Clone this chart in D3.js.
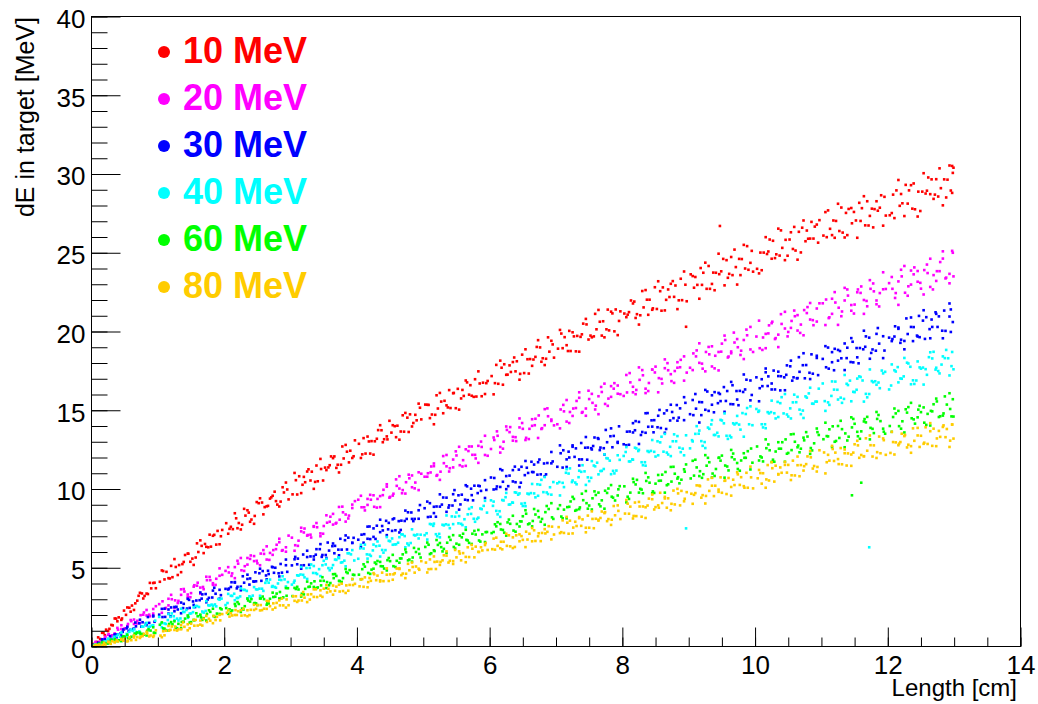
<!DOCTYPE html>
<html>
<head>
<meta charset="utf-8">
<script src="https://cdn.jsdelivr.net/npm/d3@7/dist/d3.min.js"></script>
<style>
  html, body { margin: 0; padding: 0; background: #fff; }
  svg { display: block; }
  text { font-family: "Liberation Sans", Arial, Helvetica, sans-serif; }
</style>
</head>
<body>
<svg id="chart" width="1038" height="704"></svg>
<script>
// Energy deposited in the target versus track length, one band per beam energy.

const xMajorTicks = [0, 2, 4, 6, 8, 10, 12, 14];
const yMajorTicks = [0, 5, 10, 15, 20, 25, 30, 35, 40];
const xTitle = "Length [cm]";
const yTitle = "dE in target [MeV]";
const energyLabels = ["10 MeV", "20 MeV", "30 MeV", "40 MeV", "60 MeV", "80 MeV"];
const energyColors = ["#ff0000", "#ff00ff", "#0000ff", "#00ffff", "#00ff00", "#ffcc00"];

// x, y pairs (cm, MeV)
const pts10 = [
  0.03,0.16, 0.13,0.48, 0.22,1.07, 0.32,1.34, 0.41,1.85, 0.52,2.01, 0.61,2.60, 0.71,3.22, 0.80,3.21, 0.90,3.69,
  1.03,4.11, 1.13,4.74, 1.22,4.40, 1.32,5.17, 1.41,5.81, 1.52,5.58, 1.61,6.00, 1.71,6.51, 1.80,6.34, 1.90,7.34,
  2.03,7.83, 2.13,7.45, 2.22,7.84, 2.32,8.31, 2.41,8.06, 2.52,9.10, 2.61,8.85, 2.71,9.47, 2.80,9.01, 2.90,9.78,
  3.03,9.66, 3.13,10.81, 3.22,10.43, 3.32,11.10, 3.41,10.49, 3.52,11.36, 3.61,12.07, 3.71,11.54, 3.80,11.94, 3.90,12.43,
  4.03,12.87, 4.13,12.25, 4.22,13.04, 4.32,13.74, 4.41,13.16, 4.52,13.58, 4.61,14.02, 4.71,13.64, 4.80,14.74, 4.90,14.36,
  5.03,15.36, 5.13,14.73, 5.22,15.11, 5.32,15.60, 5.41,15.14, 5.52,16.36, 5.61,15.91, 5.71,16.59, 5.80,15.87, 5.90,16.75,
  6.03,17.17, 6.13,16.68, 6.22,17.92, 6.32,17.43, 6.41,18.11, 6.52,17.36, 6.61,18.25, 6.71,19.02, 6.80,18.30, 6.90,18.72,
  7.03,18.91, 7.13,19.64, 7.22,18.76, 7.32,19.72, 7.41,20.50, 7.52,19.74, 7.61,20.14, 7.71,20.65, 7.80,20.07, 7.90,21.40,
  8.03,21.14, 8.13,21.97, 8.22,21.10, 8.32,21.53, 8.41,22.02, 8.52,21.43, 8.61,22.80, 8.71,22.19, 8.80,22.92, 8.90,21.99,
  9.03,23.63, 9.13,22.96, 9.22,23.73, 9.32,22.71, 9.41,23.73, 9.52,24.61, 9.61,23.66, 9.71,24.09, 9.80,24.60, 9.90,23.92,
  10.03,23.98, 10.13,25.01, 10.22,25.84, 10.32,24.90, 10.41,25.31, 10.52,25.84, 10.61,25.14, 10.71,26.59, 10.80,25.89, 10.90,26.66,
  11.03,26.09, 11.13,26.52, 11.22,27.02, 11.32,26.28, 11.41,27.78, 11.52,27.05, 11.61,27.83, 11.71,26.73, 11.80,27.77, 11.90,28.65,
  12.03,27.38, 12.13,28.96, 12.22,28.14, 12.32,28.96, 12.41,27.76, 12.52,28.88, 12.61,29.78, 12.71,28.69, 12.80,29.10, 12.90,29.64,
  12.97,28.80, 12.98,30.07, 12.99,30.40, 8.96,20.30, 9.47,26.70,
  0.08,0.29, 0.18,0.87, 0.27,1.12, 0.37,1.77, 0.46,1.78, 0.57,2.46, 0.66,2.74, 0.76,3.37, 0.85,3.33, 0.95,4.05,
  1.08,4.79, 1.18,4.32, 1.27,5.05, 1.37,5.23, 1.46,5.89, 1.57,5.65, 1.66,6.39, 1.76,6.30, 1.85,7.09, 1.95,7.00,
  2.08,7.47, 2.18,8.14, 2.27,7.73, 2.37,8.50, 2.46,8.29, 2.57,9.14, 2.66,8.93, 2.76,9.83, 2.85,9.20, 2.95,9.97,
  3.08,10.56, 3.18,10.27, 3.27,11.25, 3.37,10.45, 3.46,11.27, 3.57,11.37, 3.66,12.07, 3.76,11.54, 3.85,12.37, 3.95,12.08,
  4.08,12.20, 4.18,13.02, 4.27,13.03, 4.37,13.73, 4.46,13.15, 4.57,13.99, 4.66,13.65, 4.76,14.53, 4.85,14.19, 4.95,15.16,
  5.08,15.34, 5.18,14.71, 5.27,15.55, 5.37,15.18, 5.46,16.10, 5.57,15.75, 5.66,16.77, 5.76,15.85, 5.85,16.70, 5.95,16.72,
  6.08,16.72, 6.18,17.70, 6.27,17.26, 6.37,18.35, 6.46,17.31, 6.57,18.24, 6.66,18.22, 6.76,18.99, 6.85,18.27, 6.95,19.18,
  7.08,19.87, 7.18,18.76, 7.27,19.69, 7.37,19.66, 7.46,20.45, 7.57,19.69, 7.66,20.62, 7.76,20.14, 7.85,21.15, 7.95,20.67,
  8.08,21.07, 8.18,21.90, 8.27,21.03, 8.37,22.02, 8.46,21.47, 8.57,22.56, 8.66,22.01, 8.76,23.20, 8.85,21.98, 8.95,22.97,
  9.08,22.78, 9.18,24.03, 9.27,22.71, 9.37,23.74, 9.46,23.64, 9.57,24.53, 9.66,23.58, 9.76,24.61, 9.85,24.00, 9.95,25.12,
  10.08,25.01, 10.18,24.92, 10.27,25.76, 10.37,24.82, 10.46,25.82, 10.57,25.24, 10.66,26.33, 10.76,25.73, 10.85,26.96, 10.95,25.64,
  11.08,25.99, 11.18,27.05, 11.27,26.38, 11.37,27.53, 11.46,26.87, 11.57,28.17, 11.66,26.74, 11.76,27.80, 11.85,27.67, 11.95,28.55,
  12.08,28.69, 12.18,27.98, 12.27,29.31, 12.37,27.80, 12.46,28.88, 12.57,28.76, 12.66,29.66, 12.76,28.57, 12.85,29.66, 12.95,28.95,
  0.10,0.58, 0.20,0.72, 0.30,1.37, 0.39,1.60, 0.49,2.28, 0.59,2.21, 0.69,2.91, 0.78,3.05, 0.88,4.04, 0.97,3.70,
  1.10,4.26, 1.20,5.12, 1.30,4.54, 1.39,5.37, 1.49,5.38, 1.59,6.55, 1.69,5.93, 1.78,7.10, 1.88,6.47, 1.97,7.40,
  2.10,7.60, 2.20,7.51, 2.30,8.74, 2.39,7.92, 2.49,9.17, 2.59,8.39, 2.69,9.39, 2.78,9.23, 2.88,10.11, 2.97,9.34,
  3.10,9.65, 3.20,10.77, 3.30,10.54, 3.39,11.49, 3.49,10.54, 3.59,11.51, 3.69,11.34, 3.78,12.70, 3.88,11.69, 3.97,13.09,
  4.10,13.23, 4.20,12.25, 4.30,13.19, 4.39,12.97, 4.49,14.33, 4.59,13.29, 4.69,14.68, 4.78,13.62, 4.88,14.71, 4.97,14.42,
  5.10,14.50, 5.20,15.95, 5.30,14.81, 5.39,16.28, 5.49,15.13, 5.59,16.29, 5.69,15.99, 5.78,16.97, 5.88,15.89, 5.97,16.86,
  6.10,17.88, 6.20,16.62, 6.30,17.85, 6.39,17.47, 6.49,18.53, 6.59,17.33, 6.69,18.39, 6.78,18.08, 6.88,19.63, 6.97,18.34,
  7.10,18.94, 7.20,20.04, 7.30,18.74, 7.39,19.82, 7.49,19.49, 7.59,21.12, 7.69,19.74, 7.78,21.39, 7.88,20.01, 7.97,21.28,
  8.10,21.23, 8.20,20.86, 8.30,22.57, 8.39,21.06, 8.49,22.81, 8.59,21.32, 8.69,22.67, 8.78,22.20, 8.88,23.35, 8.97,21.92,
  9.10,23.46, 9.20,22.96, 9.30,24.16, 9.39,22.62, 9.49,23.82, 9.59,23.41, 9.69,25.20, 9.78,23.58, 9.88,25.42, 9.97,23.80,
  10.10,23.89, 10.20,25.08, 10.30,24.66, 10.39,26.42, 10.49,24.81, 10.59,26.64, 10.69,25.02, 10.78,26.41, 10.88,25.90, 10.97,27.07,
  11.10,27.69, 11.20,25.95, 11.30,27.87, 11.39,26.12, 11.49,27.59, 11.59,27.02, 11.69,28.27, 11.78,26.61, 11.88,27.86, 11.97,27.36,
  12.10,27.20, 12.20,28.73, 12.30,28.12, 12.39,29.40, 12.49,27.65, 12.59,28.94, 12.69,28.42, 12.78,30.36, 12.88,28.51, 12.97,30.51,
  0.06,0.10, 0.16,0.87, 0.25,0.98, 0.35,1.78, 0.45,1.69, 0.54,2.48, 0.64,2.32, 0.73,3.41, 0.83,3.36, 0.93,4.03,
  1.06,4.83, 1.16,4.34, 1.25,5.55, 1.35,4.72, 1.45,5.90, 1.54,5.18, 1.64,6.74, 1.73,6.33, 1.83,7.03, 1.93,6.49,
  2.06,7.16, 2.16,8.46, 2.25,7.43, 2.35,8.65, 2.45,7.79, 2.54,9.41, 2.64,8.90, 2.73,9.57, 2.83,8.89, 2.93,10.41,
  3.06,11.02, 3.16,9.74, 3.25,11.11, 3.35,10.01, 3.45,11.91, 3.54,11.20, 3.64,11.96, 3.73,11.05, 3.83,12.80, 3.93,11.97,
  4.06,11.97, 4.16,13.33, 4.25,12.18, 4.35,14.05, 4.45,13.34, 4.54,14.05, 4.64,13.13, 4.73,14.83, 4.83,13.97, 4.93,15.42,
  5.06,15.35, 5.16,14.11, 5.25,16.10, 5.35,15.31, 5.45,16.08, 5.54,15.04, 5.64,16.89, 5.73,15.92, 5.83,17.47, 5.93,16.03,
  6.06,16.01, 6.16,18.15, 6.25,17.25, 6.35,18.06, 6.45,16.94, 6.54,18.87, 6.64,17.82, 6.73,19.45, 6.83,17.87, 6.93,19.41,
  7.06,20.10, 7.16,19.13, 7.25,19.95, 7.35,18.72, 7.45,20.80, 7.54,19.63, 7.64,21.37, 7.73,19.63, 7.83,21.26, 7.93,19.77,
  8.06,20.91, 8.16,21.78, 8.25,20.44, 8.35,22.63, 8.45,21.38, 8.54,23.19, 8.64,21.34, 8.73,23.03, 8.83,21.42, 8.93,23.81,
  9.06,23.52, 9.16,22.08, 9.25,24.37, 9.35,23.02, 9.45,24.94, 9.54,22.93, 9.64,24.73, 9.73,22.98, 9.83,25.50, 9.93,24.36,
  10.06,23.69, 10.16,25.99, 10.25,24.62, 10.35,26.53, 10.45,24.53, 10.54,26.30, 10.64,24.56, 10.73,27.05, 10.83,25.90, 10.93,26.79,
  11.06,27.58, 11.16,26.12, 11.25,28.11, 11.35,25.97, 11.45,27.84, 11.54,25.95, 11.64,28.59, 11.73,27.34, 11.83,28.27, 11.93,26.72,
  12.06,27.52, 12.16,29.62, 12.25,27.33, 12.35,29.29, 12.45,27.30, 12.54,30.05, 12.64,28.72, 12.73,29.67, 12.83,28.01, 12.93,30.54
];
const pts20 = [
  0.07,0.10, 0.16,0.42, 0.26,0.78, 0.35,0.83, 0.45,1.11, 0.55,1.43, 0.64,1.43, 0.74,1.99, 0.83,1.97, 0.93,2.38,
  1.07,2.87, 1.16,2.61, 1.26,2.93, 1.35,3.28, 1.45,3.14, 1.55,3.89, 1.64,3.74, 1.74,4.21, 1.83,3.91, 1.93,4.49,
  2.07,4.70, 2.16,5.04, 2.26,4.84, 2.35,5.62, 2.45,5.42, 2.55,5.90, 2.64,5.52, 2.74,6.12, 2.83,6.62, 2.93,6.30,
  3.07,6.43, 3.16,7.31, 3.26,7.08, 3.35,7.60, 3.45,7.18, 3.55,7.86, 3.64,8.42, 3.74,8.05, 3.83,8.38, 3.93,8.79,
  4.07,8.84, 4.16,9.37, 4.26,8.87, 4.35,9.55, 4.45,10.15, 4.55,9.70, 4.64,10.03, 4.74,10.43, 4.83,10.11, 4.93,11.06,
  5.07,11.00, 5.16,11.62, 5.26,11.10, 5.35,11.44, 5.45,11.87, 5.55,11.51, 5.64,12.52, 5.74,12.17, 5.83,12.74, 5.93,12.16,
  6.07,13.11, 6.16,12.67, 6.26,13.75, 6.35,13.31, 6.45,13.91, 6.55,13.25, 6.64,14.01, 6.74,14.67, 6.83,14.05, 6.93,14.41,
  7.07,15.05, 7.16,14.28, 7.26,15.11, 7.35,15.79, 7.45,15.11, 7.55,15.47, 7.64,15.89, 7.74,15.40, 7.83,16.53, 7.93,16.05,
  8.07,16.13, 8.16,16.49, 8.26,16.93, 8.35,16.37, 8.45,17.58, 8.55,17.04, 8.64,17.67, 8.74,16.85, 8.83,17.70, 8.93,18.42,
  9.07,18.61, 9.16,18.01, 9.26,18.70, 9.35,17.78, 9.45,18.70, 9.55,19.46, 9.64,18.62, 9.74,19.00, 9.83,19.46, 9.93,18.86,
  10.07,18.94, 10.16,19.85, 10.26,20.62, 10.35,19.80, 10.45,20.19, 10.55,20.67, 10.64,20.06, 10.74,21.36, 10.83,20.76, 10.93,21.46,
  11.07,22.03, 11.16,21.12, 11.26,21.51, 11.35,21.97, 11.45,21.32, 11.55,22.67, 11.64,22.00, 11.74,22.71, 11.83,21.73, 11.93,22.68,
  12.07,22.71, 12.16,23.18, 12.26,22.46, 12.35,23.87, 12.45,23.16, 12.55,23.90, 12.64,22.83, 12.74,23.83, 12.83,24.63, 12.93,23.66,
  12.98,25.00, 12.99,23.50,
  0.02,0.07, 0.12,0.30, 0.21,0.62, 0.31,0.71, 0.40,1.07, 0.50,1.16, 0.60,1.61, 0.69,1.63, 0.79,2.16, 0.88,1.92,
  1.02,2.69, 1.12,2.45, 1.21,3.00, 1.31,2.90, 1.40,3.49, 1.50,3.39, 1.60,4.05, 1.69,3.64, 1.79,4.21, 1.88,4.30,
  2.02,4.80, 2.12,4.64, 2.21,5.26, 2.31,5.10, 2.40,5.78, 2.50,5.28, 2.60,5.88, 2.69,5.94, 2.79,6.46, 2.88,6.12,
  3.02,6.91, 3.12,6.72, 3.21,7.49, 3.31,6.92, 3.40,7.57, 3.50,7.65, 3.60,8.24, 3.69,7.85, 3.79,8.52, 3.88,8.31,
  4.02,9.32, 4.12,8.64, 4.21,9.32, 4.31,9.37, 4.40,9.95, 4.50,9.50, 4.60,10.20, 4.69,9.93, 4.79,10.68, 4.88,10.41,
  5.02,10.78, 5.12,11.43, 5.21,10.89, 5.31,11.64, 5.40,11.32, 5.50,12.13, 5.60,11.83, 5.69,12.70, 5.79,11.94, 5.88,12.67,
  6.02,12.54, 6.12,13.38, 6.21,13.00, 6.31,13.93, 6.40,13.04, 6.50,13.82, 6.60,13.82, 6.69,14.46, 6.79,13.86, 6.88,14.62,
  7.02,14.11, 7.12,14.93, 7.21,14.89, 7.31,15.59, 7.40,14.89, 7.50,15.71, 7.60,15.29, 7.69,16.16, 7.79,15.74, 7.88,16.72,
  8.02,15.91, 8.12,16.77, 8.21,16.29, 8.31,17.22, 8.40,16.73, 8.50,17.77, 8.60,16.70, 8.69,17.54, 8.79,17.49, 8.88,18.20,
  9.02,17.70, 9.12,18.80, 9.21,17.64, 9.31,18.55, 9.40,18.46, 9.50,19.23, 9.60,18.41, 9.69,19.30, 9.79,18.78, 9.88,19.76,
  10.02,19.68, 10.12,19.62, 10.21,20.39, 10.31,19.58, 10.40,20.48, 10.50,19.97, 10.60,20.97, 10.69,20.44, 10.79,21.55, 10.88,20.40,
  11.02,21.79, 11.12,20.90, 11.21,21.84, 11.31,21.27, 11.40,22.28, 11.50,21.71, 11.60,22.86, 11.69,21.60, 11.79,22.55, 11.88,22.44,
  12.02,23.07, 12.12,22.44, 12.21,23.50, 12.31,22.87, 12.40,24.07, 12.50,22.72, 12.60,23.71, 12.69,23.58, 12.79,24.41, 12.88,23.42,
  0.11,0.16, 0.20,0.52, 0.30,0.67, 0.39,1.18, 0.49,1.08, 0.59,1.68, 0.68,1.46, 0.78,2.02, 0.87,2.02, 0.97,2.56,
  1.11,2.41, 1.20,3.28, 1.30,2.76, 1.39,3.65, 1.49,3.13, 1.59,3.86, 1.68,3.78, 1.78,4.42, 1.87,3.91, 1.97,4.55,
  2.11,4.48, 2.20,5.44, 2.30,4.80, 2.39,5.56, 2.49,5.44, 2.59,6.12, 2.68,5.50, 2.78,6.18, 2.87,6.08, 2.97,7.04,
  3.11,6.39, 3.20,7.24, 3.30,7.10, 3.39,7.84, 3.49,7.16, 3.59,7.92, 3.68,7.81, 3.78,8.88, 3.87,8.13, 3.97,9.23,
  4.11,8.84, 4.20,9.63, 4.30,8.82, 4.39,9.61, 4.49,9.45, 4.59,10.61, 4.68,9.73, 4.78,10.91, 4.87,10.04, 4.97,10.97,
  5.11,11.05, 5.20,10.84, 5.30,12.09, 5.39,11.11, 5.49,12.39, 5.59,11.43, 5.68,12.41, 5.78,12.17, 5.87,13.01, 5.97,12.11,
  6.11,13.66, 6.20,12.56, 6.30,13.61, 6.39,13.29, 6.49,14.19, 6.59,13.17, 6.68,14.05, 6.78,13.81, 6.87,15.12, 6.97,14.04,
  7.11,15.34, 7.20,14.19, 7.30,15.14, 7.39,14.84, 7.49,16.24, 7.59,15.05, 7.68,16.48, 7.78,15.28, 7.87,16.37, 7.97,16.02,
  8.11,17.36, 8.20,16.02, 8.30,17.55, 8.39,16.22, 8.49,17.40, 8.59,16.99, 8.68,17.99, 8.78,16.74, 8.87,17.73, 8.97,17.39,
  9.11,18.42, 9.20,17.96, 9.30,19.02, 9.39,17.66, 9.49,18.72, 9.59,18.35, 9.68,19.93, 9.78,18.51, 9.87,20.12, 9.97,18.70,
  10.11,18.83, 10.20,19.88, 10.30,19.52, 10.39,21.10, 10.49,19.69, 10.59,21.33, 10.68,19.91, 10.78,21.17, 10.87,20.72, 10.97,21.79,
  11.11,20.85, 11.20,22.50, 11.30,20.97, 11.39,22.67, 11.49,21.14, 11.59,22.45, 11.68,21.94, 11.78,23.05, 11.87,21.59, 11.97,22.70,
  12.11,22.13, 12.20,23.92, 12.30,22.27, 12.39,23.63, 12.49,23.09, 12.59,24.25, 12.68,22.67, 12.78,23.83, 12.87,23.37, 12.97,25.12,
  0.06,0.29, 0.16,0.29, 0.25,0.74, 0.35,0.67, 0.45,1.35, 0.54,1.30, 0.64,1.71, 0.73,1.49, 0.83,2.32, 0.93,2.09,
  1.06,2.14, 1.16,3.03, 1.25,2.44, 1.35,3.63, 1.45,3.30, 1.54,3.80, 1.64,3.35, 1.73,4.43, 1.83,4.02, 1.93,4.96,
  2.06,5.04, 2.16,4.34, 2.25,5.62, 2.35,5.20, 2.45,5.74, 2.54,5.16, 2.64,6.36, 2.73,5.82, 2.83,6.84, 2.93,6.02,
  3.06,6.08, 3.16,7.54, 3.25,7.04, 3.35,7.64, 3.45,7.00, 3.54,8.33, 3.64,7.74, 3.73,8.86, 3.83,7.93, 3.93,9.01,
  4.06,9.57, 4.16,8.99, 4.25,9.60, 4.35,8.85, 4.45,10.30, 4.54,9.58, 4.64,10.81, 4.73,9.71, 4.83,10.86, 4.93,9.93,
  5.06,10.78, 5.16,11.45, 5.25,10.58, 5.35,12.16, 5.45,11.37, 5.54,12.68, 5.64,11.47, 5.73,12.70, 5.83,11.66, 5.93,13.38,
  6.06,13.27, 6.16,12.31, 6.25,13.97, 6.35,13.07, 6.45,14.48, 6.54,13.11, 6.64,14.43, 6.73,13.24, 6.83,15.07, 6.93,14.32,
  7.06,13.85, 7.16,15.65, 7.25,14.64, 7.35,16.14, 7.45,14.65, 7.54,16.04, 7.64,14.75, 7.73,16.69, 7.83,15.85, 7.93,16.57,
  8.06,17.24, 8.16,16.14, 8.25,17.72, 8.35,16.09, 8.45,17.58, 8.54,16.14, 8.64,18.23, 8.73,17.29, 8.83,18.05, 8.93,16.88,
  9.06,17.55, 9.16,19.25, 9.25,17.47, 9.35,19.06, 9.45,17.53, 9.54,19.74, 9.64,18.73, 9.73,19.52, 9.83,18.25, 9.93,20.29,
  10.06,20.69, 10.16,18.94, 10.25,20.53, 10.35,19.01, 10.45,21.25, 10.54,20.23, 10.64,21.04, 10.73,19.76, 10.83,21.81, 10.93,20.63,
  11.06,20.41, 11.16,22.08, 11.25,20.42, 11.35,22.77, 11.45,21.68, 11.54,22.49, 11.64,21.12, 11.73,23.26, 11.83,21.97, 11.93,23.76,
  12.06,23.46, 12.16,21.69, 12.25,24.16, 12.35,22.98, 12.45,23.84, 12.54,22.35, 12.64,24.62, 12.73,23.21, 12.83,25.09, 12.93,23.06
];
const pts30 = [
  0.02,0.10, 0.11,0.20, 0.20,0.46, 0.30,0.48, 0.39,0.77, 0.48,1.08, 0.58,1.06, 0.67,1.28, 0.77,1.54, 0.87,1.50,
  1.02,2.02, 1.11,1.88, 1.20,2.48, 1.30,2.35, 1.39,2.71, 1.48,2.45, 1.58,2.92, 1.67,3.31, 1.77,3.09, 1.87,3.35,
  2.02,3.66, 2.11,4.08, 2.20,3.79, 2.30,4.05, 2.39,4.32, 2.48,4.14, 2.58,4.79, 2.67,4.60, 2.77,5.00, 2.87,4.69,
  3.02,5.15, 3.11,5.58, 3.20,5.16, 3.30,5.72, 3.39,6.18, 3.48,5.81, 3.58,6.09, 3.67,6.39, 3.77,6.15, 3.87,6.91,
  4.02,6.78, 4.11,7.13, 4.20,6.82, 4.30,7.67, 4.39,7.37, 4.48,7.85, 4.58,7.38, 4.67,7.99, 4.77,8.52, 4.87,8.10,
  5.02,8.78, 5.11,8.24, 5.20,8.89, 5.30,9.46, 5.39,8.96, 5.48,9.27, 5.58,9.64, 5.67,9.29, 5.77,10.21, 5.87,9.88,
  6.02,10.73, 6.11,10.16, 6.20,10.46, 6.30,10.85, 6.39,10.43, 6.48,11.41, 6.58,11.02, 6.67,11.55, 6.77,10.93, 6.87,11.65,
  7.02,11.41, 7.11,12.46, 7.20,12.00, 7.30,12.58, 7.39,11.88, 7.48,12.63, 7.58,13.27, 7.67,12.63, 7.77,12.97, 7.87,13.37,
  8.02,12.84, 8.11,13.65, 8.20,14.31, 8.30,13.62, 8.39,13.95, 8.48,14.37, 8.58,13.87, 8.67,14.99, 8.77,14.50, 8.87,15.12,
  9.02,14.75, 9.11,15.10, 9.20,15.51, 9.30,14.96, 9.39,16.15, 9.48,15.58, 9.58,16.22, 9.67,15.38, 9.77,16.23, 9.87,16.94,
  10.02,17.09, 10.11,16.53, 10.20,17.15, 10.30,16.32, 10.39,17.16, 10.48,17.85, 10.58,17.09, 10.67,17.44, 10.77,17.87, 10.87,17.32,
  11.02,18.26, 11.11,17.64, 11.20,18.90, 11.30,18.30, 11.39,18.97, 11.48,18.04, 11.58,18.95, 11.67,19.69, 11.77,18.86, 11.87,19.23,
  12.02,19.61, 12.11,20.33, 12.20,19.48, 12.30,19.84, 12.39,20.28, 12.48,19.64, 12.58,20.91, 12.67,20.29, 12.77,20.96, 12.87,20.04,
  12.95,21.40, 12.98,20.60,
  0.07,0.12, 0.16,0.42, 0.25,0.39, 0.35,0.72, 0.44,0.84, 0.53,1.15, 0.63,1.11, 0.72,1.47, 0.82,1.46, 0.93,1.91,
  1.07,1.87, 1.16,2.35, 1.25,2.24, 1.35,2.79, 1.44,2.41, 1.53,2.86, 1.63,2.94, 1.72,3.33, 1.82,3.11, 1.93,3.60,
  2.07,3.68, 2.16,4.09, 2.25,3.80, 2.35,4.29, 2.44,4.13, 2.53,4.65, 2.63,4.51, 2.72,5.06, 2.82,4.65, 2.93,5.16,
  3.07,5.69, 3.16,5.14, 3.25,5.68, 3.35,5.72, 3.44,6.18, 3.53,5.81, 3.63,6.37, 3.72,6.15, 3.82,6.75, 3.93,6.57,
  4.07,7.10, 4.16,6.84, 4.25,7.50, 4.35,7.26, 4.44,7.98, 4.53,7.34, 4.63,7.96, 4.72,7.97, 4.82,8.51, 4.93,8.11,
  5.07,8.22, 5.16,8.87, 5.25,8.88, 5.35,9.45, 5.44,8.95, 5.53,9.60, 5.63,9.32, 5.72,10.02, 5.82,9.74, 5.93,10.56,
  6.07,10.70, 6.16,10.13, 6.25,10.82, 6.35,10.48, 6.44,11.23, 6.53,10.88, 6.63,11.73, 6.72,10.91, 6.82,11.62, 6.93,11.63,
  7.07,12.27, 7.16,11.88, 7.25,12.77, 7.35,11.88, 7.44,12.62, 7.53,12.59, 7.63,13.23, 7.72,12.59, 7.82,13.35, 7.93,12.99,
  8.07,13.64, 8.16,13.59, 8.25,14.26, 8.35,13.57, 8.44,14.36, 8.53,13.92, 8.63,14.80, 8.72,14.35, 8.82,15.33, 8.93,14.37,
  9.07,14.69, 9.16,15.52, 9.25,15.03, 9.35,15.95, 9.44,15.45, 9.53,16.47, 9.63,15.39, 9.72,16.22, 9.82,16.16, 9.93,16.89,
  10.07,16.40, 10.16,17.41, 10.25,16.32, 10.35,17.17, 10.44,17.09, 10.53,17.79, 10.63,17.03, 10.72,17.86, 10.82,17.38, 10.93,18.32,
  11.07,17.73, 11.16,18.69, 11.25,18.15, 11.35,19.24, 11.44,18.06, 11.53,18.95, 11.63,18.87, 11.72,19.61, 11.82,18.78, 11.93,19.70,
  12.07,19.52, 12.16,20.25, 12.25,19.40, 12.35,20.29, 12.44,19.74, 12.53,20.69, 12.63,20.15, 12.72,21.22, 12.82,20.05, 12.93,20.95,
  0.10,0.24, 0.19,0.34, 0.28,0.65, 0.38,0.59, 0.47,0.93, 0.56,0.98, 0.66,1.52, 0.75,1.26, 0.85,1.87, 0.95,1.57,
  1.10,2.40, 1.19,1.92, 1.28,2.52, 1.38,2.44, 1.47,2.96, 1.56,2.50, 1.66,3.04, 1.75,2.98, 1.85,3.73, 1.95,3.26,
  2.10,3.78, 2.19,3.69, 2.28,4.46, 2.38,3.93, 2.47,4.71, 2.56,4.17, 2.66,4.81, 2.75,4.68, 2.85,5.24, 2.95,4.74,
  3.10,5.22, 3.19,5.84, 3.28,5.19, 3.38,5.83, 3.47,5.69, 3.56,6.60, 3.66,5.92, 3.75,6.84, 3.85,6.16, 3.95,6.90,
  4.10,6.59, 4.19,7.62, 4.28,6.83, 4.38,7.65, 4.47,7.44, 4.56,8.13, 4.66,7.40, 4.75,8.10, 4.85,7.96, 4.95,8.98,
  5.10,9.10, 5.19,8.24, 5.28,9.01, 5.38,8.82, 5.47,9.93, 5.56,9.02, 5.66,10.17, 5.75,9.28, 5.85,10.18, 5.95,9.94,
  6.10,10.00, 6.19,11.19, 6.28,10.18, 6.38,11.42, 6.47,10.40, 6.56,11.35, 6.66,11.07, 6.75,11.87, 6.85,10.93, 6.95,11.75,
  7.10,11.36, 7.19,12.37, 7.28,12.04, 7.38,12.92, 7.47,11.86, 7.56,12.73, 7.66,12.47, 7.75,13.75, 7.85,12.65, 7.95,13.98,
  8.10,12.81, 8.19,13.73, 8.28,13.43, 8.38,14.82, 8.47,13.60, 8.56,15.02, 8.66,13.81, 8.75,14.89, 8.85,14.53, 8.95,15.47,
  9.10,16.03, 9.19,14.69, 9.28,16.19, 9.38,14.87, 9.47,16.03, 9.56,15.59, 9.66,16.59, 9.75,15.32, 9.85,16.32, 9.95,15.97,
  10.10,16.97, 10.19,16.54, 10.28,17.52, 10.38,16.26, 10.47,17.25, 10.56,16.88, 10.66,18.37, 10.75,17.03, 10.85,18.55, 10.95,17.23,
  11.10,18.98, 11.19,17.54, 11.28,18.76, 11.38,18.31, 11.47,19.35, 11.56,17.98, 11.66,19.03, 11.75,18.64, 11.85,20.22, 11.95,18.79,
  12.10,19.68, 12.19,19.28, 12.28,20.83, 12.38,19.39, 12.47,20.99, 12.56,19.53, 12.66,20.76, 12.75,20.29, 12.85,21.33, 12.95,19.97,
  0.06,0.02, 0.16,0.45, 0.25,0.46, 0.35,0.77, 0.45,0.68, 0.54,1.25, 0.64,1.13, 0.73,1.70, 0.83,1.35, 0.93,1.96,
  1.06,2.39, 1.16,2.09, 1.25,2.51, 1.35,2.11, 1.45,3.03, 1.54,2.64, 1.64,3.43, 1.73,2.81, 1.83,3.55, 1.93,3.04,
  2.06,3.62, 2.16,4.06, 2.25,3.57, 2.35,4.56, 2.45,4.12, 2.54,4.94, 2.64,4.26, 2.73,5.03, 2.83,4.45, 2.93,5.52,
  3.06,5.54, 3.16,4.94, 3.25,6.08, 3.35,5.52, 3.45,6.50, 3.54,5.62, 3.64,6.54, 3.73,5.79, 3.83,7.05, 3.93,6.59,
  4.06,6.31, 4.16,7.61, 4.25,6.96, 4.35,8.05, 4.45,7.07, 4.54,8.08, 4.64,7.24, 4.73,8.63, 4.83,8.10, 4.93,8.65,
  5.06,9.20, 5.16,8.47, 5.25,9.66, 5.35,8.55, 5.45,9.67, 5.54,8.69, 5.64,10.24, 5.73,9.61, 5.83,10.21, 5.93,9.43,
  6.06,9.97, 6.16,11.26, 6.25,9.99, 6.35,11.20, 6.45,10.12, 6.54,11.78, 6.64,11.08, 6.73,11.70, 6.83,10.81, 6.93,12.35,
  7.06,12.77, 7.16,11.40, 7.25,12.68, 7.35,11.49, 7.45,13.30, 7.54,12.51, 7.64,13.18, 7.73,12.19, 7.83,13.85, 7.93,12.93,
  8.06,12.78, 8.16,14.18, 8.25,12.86, 8.35,14.81, 8.45,13.96, 8.54,14.65, 8.64,13.57, 8.73,15.35, 8.83,14.34, 8.93,15.83,
  9.06,15.65, 9.16,14.22, 9.25,16.29, 9.35,15.35, 9.45,16.10, 9.54,14.90, 9.64,16.80, 9.73,15.68, 9.83,17.27, 9.93,15.63,
  10.06,15.57, 10.16,17.65, 10.25,16.70, 10.35,17.45, 10.45,16.27, 10.54,18.15, 10.64,17.04, 10.73,18.62, 10.83,16.98, 10.93,18.46,
  11.06,19.07, 11.16,18.05, 11.25,18.83, 11.35,17.55, 11.45,19.58, 11.54,18.36, 11.64,20.05, 11.73,18.27, 11.83,19.85, 11.93,18.31,
  12.06,19.39, 12.16,20.17, 12.25,18.87, 12.35,20.89, 12.45,19.68, 12.54,21.35, 12.64,19.57, 12.73,21.12, 12.83,19.57, 12.93,21.78
];
const pts40 = [
  0.05,0.12, 0.15,0.16, 0.24,0.38, 0.34,0.62, 0.43,0.61, 0.53,0.80, 0.62,0.99, 0.72,0.96, 0.81,1.37, 0.91,1.33,
  1.05,1.46, 1.15,1.68, 1.24,1.92, 1.34,1.78, 1.43,2.32, 1.53,2.18, 1.62,2.51, 1.72,2.26, 1.81,2.66, 1.91,3.02,
  2.05,2.76, 2.15,3.35, 2.24,3.18, 2.34,3.53, 2.43,3.23, 2.53,3.67, 2.62,4.04, 2.72,3.79, 2.81,4.00, 2.91,4.26,
  3.05,4.06, 3.15,4.57, 3.24,4.98, 3.34,4.67, 3.43,4.91, 3.53,5.21, 3.62,4.98, 3.72,5.66, 3.81,5.45, 3.91,5.85,
  4.05,6.23, 4.15,5.85, 4.24,6.10, 4.34,6.40, 4.43,6.12, 4.53,6.86, 4.62,6.59, 4.72,7.01, 4.81,6.57, 4.91,7.11,
  5.05,7.19, 5.15,7.66, 5.24,7.15, 5.34,7.76, 5.43,8.26, 5.53,7.82, 5.62,8.08, 5.72,8.42, 5.81,8.10, 5.91,8.93,
  6.05,8.93, 6.15,8.59, 6.24,9.48, 6.34,9.14, 6.43,9.64, 6.53,9.10, 6.62,9.74, 6.72,10.30, 6.81,9.80, 6.91,10.11,
  7.05,10.44, 7.15,11.03, 7.24,10.44, 7.34,10.75, 7.43,11.12, 7.53,10.71, 7.62,11.67, 7.72,11.27, 7.81,11.80, 7.91,11.17,
  8.05,12.35, 8.15,11.88, 8.24,12.41, 8.34,11.70, 8.43,12.42, 8.53,13.03, 8.62,12.37, 8.72,12.68, 8.81,13.03, 8.91,12.56,
  9.05,13.10, 9.15,13.51, 9.24,12.98, 9.34,14.10, 9.43,13.57, 9.53,14.17, 9.62,13.38, 9.72,14.18, 9.81,14.82, 9.91,14.11,
  10.05,14.90, 10.15,14.11, 10.24,14.88, 10.34,15.53, 10.43,14.80, 10.53,15.12, 10.62,15.51, 10.72,14.98, 10.81,16.07, 10.91,15.55,
  11.05,15.58, 11.15,15.91, 11.24,16.30, 11.34,15.72, 11.43,16.88, 11.53,16.30, 11.62,16.89, 11.72,16.03, 11.81,16.84, 11.91,17.52,
  12.05,16.57, 12.15,17.74, 12.24,17.15, 12.34,17.76, 12.43,16.89, 12.53,17.71, 12.62,18.37, 12.72,17.58, 12.81,17.90, 12.91,18.30,
  12.97,18.70, 12.99,17.60, 8.96,7.50, 11.72,6.30,
  0.10,0.09, 0.19,0.31, 0.29,0.44, 0.38,0.66, 0.48,0.65, 0.57,0.93, 0.67,0.93, 0.76,1.26, 0.86,1.24, 0.96,1.64,
  1.10,1.47, 1.19,1.88, 1.29,1.77, 1.38,2.20, 1.48,2.09, 1.57,2.57, 1.67,2.22, 1.76,2.62, 1.86,2.67, 1.96,3.04,
  2.10,3.22, 2.19,3.08, 2.29,3.60, 2.38,3.19, 2.48,3.63, 2.57,3.67, 2.67,4.05, 2.76,3.78, 2.86,4.22, 2.96,4.09,
  3.10,4.52, 3.19,4.55, 3.29,4.99, 3.38,4.66, 3.48,5.16, 3.57,4.98, 3.67,5.52, 3.76,5.33, 3.86,5.92, 3.96,5.46,
  4.10,6.22, 4.19,5.83, 4.29,6.37, 4.38,6.13, 4.48,6.71, 4.57,6.48, 4.67,7.12, 4.76,6.54, 4.86,7.08, 4.96,7.10,
  5.10,7.78, 5.19,7.13, 5.29,7.73, 5.38,7.72, 5.48,8.24, 5.57,7.79, 5.67,8.39, 5.76,8.11, 5.86,8.76, 5.96,8.50,
  6.10,8.61, 6.19,9.30, 6.29,9.01, 6.38,9.79, 6.48,9.07, 6.57,9.71, 6.67,9.72, 6.76,10.27, 6.86,9.78, 6.96,10.44,
  7.10,10.39, 7.19,10.98, 7.29,10.41, 7.38,11.09, 7.48,10.74, 7.57,11.49, 7.67,11.14, 7.76,11.96, 7.86,11.15, 7.96,11.85,
  8.10,11.75, 8.19,12.62, 8.29,11.70, 8.38,12.41, 8.48,12.36, 8.57,12.96, 8.67,12.31, 8.76,13.03, 8.86,12.62, 8.96,13.41,
  9.10,13.50, 9.19,13.04, 9.29,13.90, 9.38,13.43, 9.48,14.39, 9.57,13.38, 9.67,14.17, 9.76,14.09, 9.86,14.76, 9.96,14.05,
  10.10,14.11, 10.19,14.88, 10.29,14.81, 10.38,15.45, 10.48,14.73, 10.57,15.50, 10.67,15.04, 10.76,15.88, 10.86,15.42, 10.96,16.37,
  11.10,15.50, 11.19,16.31, 11.29,15.80, 11.38,16.68, 11.48,16.17, 11.57,17.15, 11.67,16.04, 11.76,16.85, 11.86,16.76, 11.96,17.44,
  12.10,17.54, 12.19,17.02, 12.29,18.02, 12.38,16.90, 12.48,17.72, 12.57,17.61, 12.67,18.29, 12.76,17.49, 12.86,18.31, 12.96,17.80,
  0.02,0.08, 0.12,0.10, 0.21,0.32, 0.31,0.41, 0.40,0.76, 0.50,0.64, 0.59,1.07, 0.69,0.88, 0.78,1.26, 0.88,1.26,
  1.02,1.88, 1.12,1.43, 1.21,2.10, 1.31,1.65, 1.40,2.19, 1.50,2.10, 1.59,2.57, 1.69,2.15, 1.78,2.60, 1.88,2.55,
  2.02,2.63, 2.12,3.21, 2.21,3.08, 2.31,3.59, 2.40,3.11, 2.50,3.62, 2.59,3.53, 2.69,4.25, 2.78,3.73, 2.88,4.46,
  3.02,3.93, 3.12,4.50, 3.21,4.39, 3.31,5.21, 3.40,4.60, 3.50,5.44, 3.59,4.84, 3.69,5.50, 3.78,5.35, 3.88,5.92,
  4.02,5.57, 4.12,6.47, 4.21,5.75, 4.31,6.67, 4.40,5.96, 4.50,6.68, 4.59,6.49, 4.69,7.11, 4.78,6.43, 4.88,7.05,
  5.02,7.07, 5.12,7.76, 5.21,7.00, 5.31,7.69, 5.40,7.51, 5.50,8.51, 5.59,7.71, 5.69,8.74, 5.78,7.92, 5.88,8.72,
  6.02,9.28, 6.12,8.39, 6.21,9.27, 6.31,9.02, 6.40,9.77, 6.50,8.92, 6.59,9.67, 6.69,9.47, 6.78,10.58, 6.88,9.68,
  7.02,10.36, 7.12,10.12, 7.21,11.31, 7.31,10.30, 7.40,11.51, 7.50,10.50, 7.59,11.44, 7.69,11.15, 7.78,11.94, 7.88,10.99,
  8.02,12.10, 8.12,11.75, 8.21,12.58, 8.31,11.51, 8.40,12.35, 8.50,12.06, 8.59,13.32, 8.69,12.19, 8.78,13.47, 8.88,12.34,
  9.02,12.58, 9.12,13.99, 9.21,12.74, 9.31,13.82, 9.40,13.43, 9.50,14.35, 9.59,13.18, 9.69,14.10, 9.78,13.77, 9.88,15.14,
  10.02,15.08, 10.12,13.91, 10.21,14.80, 10.31,14.48, 10.40,15.83, 10.50,14.60, 10.59,15.99, 10.69,14.75, 10.78,15.80, 10.88,15.41,
  11.02,16.70, 11.12,15.34, 11.21,16.82, 11.31,15.47, 11.40,16.60, 11.50,16.15, 11.59,17.11, 11.69,15.82, 11.78,16.78, 11.88,16.40,
  12.02,16.32, 12.12,17.46, 12.21,17.00, 12.31,17.97, 12.40,16.67, 12.50,17.64, 12.59,17.25, 12.69,18.71, 12.78,17.34, 12.88,18.83,
  0.06,0.13, 0.16,0.13, 0.25,0.50, 0.35,0.47, 0.45,0.88, 0.54,0.65, 0.64,1.10, 0.73,0.84, 0.83,1.50, 0.93,1.35,
  1.06,1.22, 1.16,2.06, 1.25,1.68, 1.35,2.40, 1.45,1.82, 1.54,2.48, 1.64,1.99, 1.73,2.88, 1.83,2.59, 1.93,2.97,
  2.06,3.34, 2.16,2.94, 2.25,3.69, 2.35,3.06, 2.45,3.77, 2.54,3.22, 2.64,4.19, 2.73,3.84, 2.83,4.24, 2.93,3.81,
  3.06,4.18, 3.16,5.05, 3.25,4.29, 3.35,5.11, 3.45,4.47, 3.54,5.57, 3.64,5.17, 3.73,5.61, 3.83,5.09, 3.93,6.12,
  4.06,6.46, 4.16,5.58, 4.25,6.47, 4.35,5.71, 4.45,6.95, 4.54,6.46, 4.64,6.94, 4.73,6.30, 4.83,7.44, 4.93,6.86,
  5.06,6.79, 5.16,7.80, 5.25,6.93, 5.35,8.32, 5.45,7.77, 5.54,8.28, 5.64,7.57, 5.73,8.84, 5.83,8.18, 5.93,9.25,
  6.06,9.20, 6.16,8.23, 6.25,9.75, 6.35,9.13, 6.45,9.72, 6.54,8.91, 6.64,10.32, 6.73,9.57, 6.83,10.76, 6.93,9.64,
  7.06,9.59, 7.16,11.26, 7.25,10.54, 7.35,11.16, 7.45,10.26, 7.54,11.77, 7.64,10.93, 7.73,12.20, 7.83,10.94, 7.93,12.14,
  8.06,12.66, 8.16,11.86, 8.25,12.49, 8.35,11.48, 8.45,13.11, 8.54,12.14, 8.64,13.50, 8.73,12.09, 8.83,13.36, 8.93,12.14,
  9.06,13.02, 9.16,13.71, 9.25,12.60, 9.35,14.37, 9.45,13.34, 9.54,14.80, 9.64,13.28, 9.73,14.64, 9.83,13.32, 9.93,15.25,
  10.06,14.97, 10.16,13.86, 10.25,15.61, 10.35,14.57, 10.45,16.03, 10.54,14.48, 10.64,15.85, 10.73,14.51, 10.83,16.43, 10.93,15.55,
  11.06,14.96, 11.16,16.83, 11.25,15.68, 11.35,17.24, 11.45,15.57, 11.54,17.01, 11.64,15.55, 11.73,17.59, 11.83,16.62, 11.93,17.34,
  12.06,17.91, 12.16,16.77, 12.25,18.32, 12.35,16.65, 12.45,18.10, 12.54,16.63, 12.64,18.68, 12.73,17.70, 12.83,18.42, 12.93,17.21
];
const pts60 = [
  0.08,0.10, 0.17,0.25, 0.27,0.26, 0.36,0.39, 0.46,0.54, 0.55,0.53, 0.65,0.82, 0.74,0.78, 0.84,1.00, 0.94,0.88,
  1.08,1.15, 1.17,1.43, 1.27,1.19, 1.36,1.56, 1.46,1.88, 1.55,1.66, 1.65,1.85, 1.74,2.07, 1.84,1.93, 1.94,2.43,
  2.08,2.36, 2.17,2.57, 2.27,2.41, 2.36,2.92, 2.46,2.76, 2.55,3.05, 2.65,2.78, 2.74,3.14, 2.84,3.46, 2.94,3.22,
  3.08,3.65, 3.17,3.35, 3.27,3.78, 3.36,4.14, 3.46,3.88, 3.55,4.09, 3.65,4.34, 3.74,4.15, 3.84,4.73, 3.94,4.56,
  4.08,4.91, 4.17,4.67, 4.27,5.33, 4.36,5.10, 4.46,5.48, 4.55,5.10, 4.65,5.59, 4.74,5.98, 4.84,5.65, 4.94,5.88,
  5.08,6.46, 5.17,6.06, 5.27,6.31, 5.36,6.59, 5.46,6.32, 5.55,7.04, 5.65,6.77, 5.74,7.16, 5.84,6.73, 5.94,7.26,
  6.08,7.76, 6.17,7.43, 6.27,7.88, 6.36,7.36, 6.46,7.95, 6.55,8.43, 6.65,7.97, 6.74,8.21, 6.84,8.53, 6.94,8.20,
  7.08,8.25, 7.17,8.85, 7.27,9.37, 7.36,8.83, 7.46,9.10, 7.55,9.41, 7.65,9.03, 7.74,9.89, 7.84,9.51, 7.94,9.98,
  8.08,9.51, 8.17,10.44, 8.27,10.01, 8.36,10.51, 8.46,9.85, 8.55,10.52, 8.65,11.08, 8.74,10.47, 8.84,10.75, 8.94,11.10,
  9.08,10.85, 9.17,11.13, 9.27,11.48, 9.36,10.98, 9.46,11.99, 9.55,11.49, 9.65,12.02, 9.74,11.27, 9.84,11.98, 9.94,12.57,
  10.08,12.07, 10.17,12.59, 10.27,11.86, 10.36,12.56, 10.46,13.15, 10.55,12.47, 10.65,12.76, 10.74,13.09, 10.84,12.60, 10.94,13.61,
  11.08,13.36, 11.17,13.98, 11.27,13.24, 11.36,13.53, 11.46,13.91, 11.55,13.35, 11.65,14.44, 11.74,13.88, 11.84,14.45, 11.94,13.64,
  12.08,14.57, 12.17,13.99, 12.27,15.06, 12.36,14.49, 12.46,15.04, 12.55,14.21, 12.65,14.96, 12.74,15.56, 12.84,14.80, 12.94,15.08,
  12.98,15.70, 12.99,14.60, 11.46,9.60, 11.60,10.40,
  0.03,0.03, 0.12,0.18, 0.22,0.19, 0.31,0.38, 0.41,0.40, 0.50,0.62, 0.60,0.62, 0.69,0.89, 0.79,0.75, 0.89,1.01,
  1.03,1.38, 1.12,1.04, 1.22,1.41, 1.31,1.44, 1.41,1.77, 1.50,1.55, 1.60,1.92, 1.69,1.80, 1.79,2.20, 1.89,2.09,
  2.03,2.44, 2.12,2.29, 2.22,2.70, 2.31,2.56, 2.41,3.01, 2.50,2.63, 2.60,3.01, 2.69,3.03, 2.79,3.36, 2.89,3.12,
  3.03,3.20, 3.12,3.62, 3.22,3.66, 3.31,4.01, 3.41,3.75, 3.50,4.17, 3.60,4.03, 3.69,4.48, 3.79,4.34, 3.89,4.85,
  4.03,4.56, 4.12,5.07, 4.22,4.88, 4.31,5.43, 4.41,4.95, 4.50,5.42, 4.60,5.44, 4.69,5.85, 4.79,5.52, 4.89,6.00,
  5.03,6.32, 5.12,5.92, 5.22,6.45, 5.31,6.20, 5.41,6.77, 5.50,6.53, 5.60,7.16, 5.69,6.58, 5.79,7.11, 5.89,7.12,
  6.03,7.20, 6.12,7.89, 6.22,7.23, 6.31,7.79, 6.41,7.78, 6.50,8.27, 6.60,7.81, 6.69,8.38, 6.79,8.10, 6.89,8.73,
  7.03,8.74, 7.12,8.69, 7.22,9.21, 7.31,8.67, 7.41,9.29, 7.50,8.95, 7.60,9.62, 7.69,9.28, 7.79,10.03, 7.89,9.27,
  8.03,10.17, 8.12,9.77, 8.22,10.58, 8.31,9.73, 8.41,10.40, 8.50,10.34, 8.60,10.91, 8.69,10.30, 8.79,10.97, 8.89,10.59,
  9.03,10.67, 9.12,11.37, 9.22,10.94, 9.31,11.70, 9.41,11.27, 9.50,12.12, 9.60,11.18, 9.69,11.88, 9.79,11.81, 9.89,12.40,
  10.03,12.70, 10.12,11.75, 10.22,12.46, 10.31,12.38, 10.41,12.97, 10.50,12.29, 10.60,13.00, 10.69,12.56, 10.79,13.33, 10.89,12.90,
  11.03,13.16, 11.12,13.79, 11.22,13.05, 11.31,13.80, 11.41,13.32, 11.50,14.14, 11.60,13.66, 11.69,14.58, 11.79,13.55, 11.89,14.31,
  12.03,14.00, 12.12,14.80, 12.22,14.30, 12.31,15.20, 12.41,14.15, 12.50,14.88, 12.60,14.77, 12.69,15.38, 12.79,14.62, 12.89,15.36,
  0.10,0.11, 0.20,0.17, 0.29,0.43, 0.39,0.34, 0.48,0.65, 0.58,0.51, 0.67,0.80, 0.77,0.80, 0.86,1.09, 0.96,0.86,
  1.10,1.13, 1.20,1.55, 1.29,1.16, 1.39,1.58, 1.48,1.52, 1.58,2.11, 1.67,1.69, 1.77,2.30, 1.86,1.88, 1.96,2.36,
  2.10,2.18, 2.20,2.82, 2.29,2.35, 2.39,2.85, 2.48,2.74, 2.58,3.17, 2.67,2.73, 2.77,3.16, 2.86,3.07, 2.96,3.70,
  3.10,3.79, 3.20,3.31, 3.29,3.80, 3.39,3.71, 3.48,4.40, 3.58,3.89, 3.67,4.60, 3.77,4.10, 3.86,4.66, 3.96,4.54,
  4.10,5.22, 4.20,4.61, 4.29,5.24, 4.39,5.09, 4.48,5.62, 4.58,5.05, 4.67,5.59, 4.77,5.47, 4.86,6.26, 4.96,5.65,
  5.10,5.87, 5.20,6.76, 5.29,6.04, 5.39,6.95, 5.48,6.22, 5.58,6.93, 5.67,6.73, 5.77,7.34, 5.86,6.66, 5.96,7.27,
  6.10,7.63, 6.20,7.40, 6.29,8.06, 6.39,7.29, 6.48,7.94, 6.58,7.76, 6.67,8.73, 6.77,7.92, 6.86,8.92, 6.96,8.10,
  7.10,8.14, 7.20,8.87, 7.29,8.62, 7.39,9.70, 7.48,8.75, 7.58,9.85, 7.67,8.90, 7.77,9.75, 7.86,9.45, 7.96,10.18,
  8.10,9.37, 8.20,10.29, 8.29,9.96, 8.39,10.74, 8.48,9.75, 8.58,10.53, 8.67,10.24, 8.77,11.41, 8.86,10.36, 8.96,11.56,
  9.10,11.86, 9.20,10.71, 9.29,11.98, 9.39,10.83, 9.48,11.80, 9.58,11.43, 9.67,12.25, 9.77,11.16, 9.86,11.98, 9.96,11.67,
  10.10,12.00, 10.20,12.83, 10.29,11.73, 10.39,12.56, 10.48,12.24, 10.58,13.49, 10.67,12.33, 10.77,13.61, 10.86,12.45, 10.96,13.43,
  11.10,13.34, 11.20,13.00, 11.29,14.33, 11.39,13.08, 11.48,14.45, 11.58,13.19, 11.67,14.23, 11.77,13.82, 11.86,14.70, 11.96,13.51,
  12.10,15.11, 12.20,13.83, 12.29,14.85, 12.39,14.42, 12.48,15.28, 12.58,14.07, 12.67,14.93, 12.77,14.57, 12.86,15.88, 12.96,14.61,
  0.06,0.03, 0.16,0.28, 0.25,0.19, 0.35,0.47, 0.45,0.34, 0.54,0.75, 0.64,0.67, 0.73,0.88, 0.83,0.70, 0.93,1.22,
  1.06,1.53, 1.16,1.01, 1.25,1.60, 1.35,1.16, 1.45,1.97, 1.54,1.69, 1.64,2.02, 1.73,1.65, 1.83,2.40, 1.93,2.07,
  2.06,2.07, 2.16,2.70, 2.25,2.19, 2.35,3.04, 2.45,2.73, 2.54,3.05, 2.64,2.65, 2.73,3.42, 2.83,3.05, 2.93,3.71,
  3.06,3.72, 3.16,3.17, 3.25,4.12, 3.35,3.78, 3.45,4.17, 3.54,3.71, 3.64,4.59, 3.73,4.17, 3.83,4.92, 3.93,4.28,
  4.06,4.27, 4.16,5.37, 4.25,4.94, 4.35,5.37, 4.45,4.83, 4.54,5.82, 4.64,5.32, 4.73,6.16, 4.83,5.39, 4.93,6.19,
  5.06,6.60, 5.16,6.11, 5.25,6.57, 5.35,5.94, 5.45,7.07, 5.54,6.46, 5.64,7.41, 5.73,6.51, 5.83,7.40, 5.93,6.63,
  6.06,7.27, 6.16,7.78, 6.25,7.04, 6.35,8.30, 6.45,7.62, 6.54,8.65, 6.64,7.63, 6.73,8.61, 6.83,7.73, 6.93,9.10,
  7.06,8.97, 7.16,8.14, 7.25,9.50, 7.35,8.72, 7.45,9.87, 7.54,8.70, 7.64,9.77, 7.73,8.75, 7.83,10.25, 7.93,9.59,
  8.06,9.15, 8.16,10.65, 8.25,9.77, 8.35,11.02, 8.45,9.73, 8.54,10.89, 8.64,9.77, 8.73,11.40, 8.83,10.66, 8.93,11.25,
  9.06,11.79, 9.16,10.82, 9.25,12.15, 9.35,10.73, 9.45,11.98, 9.54,10.72, 9.64,12.48, 9.73,11.65, 9.83,12.27, 9.93,11.24,
  10.06,11.81, 10.16,13.15, 10.25,11.72, 10.35,12.97, 10.45,11.73, 10.54,13.47, 10.64,12.65, 10.73,13.26, 10.83,12.23, 10.93,13.84,
  11.06,14.21, 11.16,12.66, 11.25,14.00, 11.35,12.65, 11.45,14.55, 11.54,13.63, 11.64,14.29, 11.73,13.15, 11.83,14.89, 11.93,13.83,
  12.06,13.63, 12.16,14.96, 12.25,13.59, 12.35,15.47, 12.45,14.55, 12.54,15.18, 12.64,14.03, 12.73,15.74, 12.83,14.66, 12.93,16.08
];
const pts80 = [
  0.04,0.03, 0.12,0.12, 0.21,0.12, 0.31,0.33, 0.40,0.32, 0.50,0.49, 0.60,0.40, 0.69,0.60, 0.79,0.80, 0.89,0.70,
  1.04,0.69, 1.12,1.00, 1.21,1.27, 1.31,1.09, 1.40,1.25, 1.50,1.45, 1.60,1.33, 1.69,1.75, 1.79,1.64, 1.89,1.89,
  2.04,2.14, 2.12,1.97, 2.21,2.24, 2.31,1.98, 2.40,2.33, 2.50,2.63, 2.60,2.40, 2.69,2.56, 2.79,2.77, 2.89,2.61,
  3.04,3.19, 3.12,2.92, 3.21,3.10, 3.31,3.32, 3.40,3.14, 3.50,3.67, 3.60,3.50, 3.69,3.80, 3.79,3.52, 3.89,3.91,
  4.04,3.82, 4.12,4.39, 4.21,4.17, 4.31,4.50, 4.40,4.15, 4.50,4.58, 4.60,4.95, 4.69,4.63, 4.79,4.84, 4.89,5.08,
  5.04,5.33, 5.12,4.92, 5.21,5.39, 5.31,5.79, 5.40,5.44, 5.50,5.66, 5.60,5.93, 5.69,5.68, 5.79,6.34, 5.89,6.10,
  6.04,6.18, 6.12,6.39, 6.21,6.65, 6.31,6.36, 6.40,7.06, 6.50,6.77, 6.60,7.16, 6.69,6.70, 6.79,7.21, 6.89,7.64,
  7.04,7.58, 7.12,7.21, 7.21,7.99, 7.31,7.65, 7.40,8.07, 7.50,7.54, 7.60,8.11, 7.69,8.57, 7.79,8.09, 7.89,8.33,
  8.04,8.44, 8.12,8.88, 8.21,8.28, 8.31,8.89, 8.40,9.39, 8.50,8.85, 8.60,9.11, 8.69,9.41, 8.79,9.02, 8.89,9.88,
  9.04,9.70, 9.12,10.23, 9.21,9.61, 9.31,9.88, 9.40,10.21, 9.50,9.76, 9.60,10.70, 9.69,10.25, 9.79,10.75, 9.89,10.08,
  10.04,10.68, 10.12,11.00, 10.21,10.54, 10.31,11.48, 10.40,11.03, 10.50,11.53, 10.60,10.86, 10.69,11.52, 10.79,12.07, 10.89,11.46,
  11.04,12.32, 11.12,11.80, 11.21,12.31, 11.31,11.57, 11.40,12.26, 11.50,12.84, 11.60,12.16, 11.69,12.43, 11.79,12.77, 11.89,12.27,
  12.04,12.29, 12.12,12.96, 12.21,13.51, 12.31,12.81, 12.40,13.06, 12.50,13.38, 12.60,12.86, 12.69,13.83, 12.79,13.31, 12.89,13.81,
  12.97,14.10, 12.99,13.20,
  0.08,0.09, 0.17,0.10, 0.26,0.27, 0.35,0.27, 0.45,0.48, 0.55,0.37, 0.64,0.57, 0.74,0.62, 0.84,0.82, 0.94,0.70,
  1.08,0.97, 1.17,1.01, 1.26,1.27, 1.35,1.09, 1.45,1.41, 1.55,1.32, 1.64,1.65, 1.74,1.56, 1.84,1.94, 1.94,1.66,
  2.08,1.90, 2.17,2.31, 2.26,1.96, 2.35,2.30, 2.45,2.32, 2.55,2.63, 2.64,2.39, 2.74,2.74, 2.84,2.61, 2.94,2.99,
  3.08,3.19, 3.17,2.92, 3.26,3.30, 3.35,3.15, 3.45,3.57, 3.55,3.43, 3.64,3.87, 3.74,3.49, 3.84,3.88, 3.94,3.90,
  4.08,4.28, 4.17,4.09, 4.26,4.59, 4.35,4.13, 4.45,4.56, 4.55,4.58, 4.64,4.92, 4.74,4.62, 4.84,5.05, 4.94,4.87,
  5.08,4.91, 5.17,5.37, 5.26,5.37, 5.35,5.77, 5.45,5.42, 5.55,5.90, 5.64,5.69, 5.74,6.21, 5.84,6.00, 5.94,6.57,
  6.08,6.15, 6.17,6.65, 6.26,6.39, 6.35,6.93, 6.45,6.68, 6.55,7.29, 6.64,6.68, 6.74,7.19, 6.84,7.18, 6.94,7.61,
  7.08,7.26, 7.17,7.86, 7.26,7.55, 7.35,8.22, 7.45,7.54, 7.55,8.10, 7.64,8.05, 7.74,8.53, 7.84,8.05, 7.94,8.61,
  8.08,9.07, 8.17,8.29, 8.26,8.89, 8.35,8.84, 8.45,9.35, 8.55,8.81, 8.64,9.40, 8.74,9.06, 8.84,9.72, 8.94,9.38,
  9.08,9.63, 9.17,10.18, 9.26,9.56, 9.35,10.21, 9.45,9.82, 9.55,10.54, 9.64,10.13, 9.74,10.93, 9.84,10.08, 9.94,10.74,
  10.08,11.01, 10.17,10.61, 10.26,11.32, 10.35,10.92, 10.45,11.72, 10.55,10.87, 10.64,11.51, 10.74,11.45, 10.84,12.01, 10.94,11.40,
  11.08,11.70, 11.17,12.54, 11.26,11.58, 11.35,12.27, 11.45,12.19, 11.55,12.77, 11.64,12.08, 11.74,12.78, 11.84,12.34, 11.94,13.10,
  12.08,12.98, 12.17,12.88, 12.26,13.43, 12.35,12.72, 12.45,13.40, 12.55,12.94, 12.64,13.67, 12.74,13.21, 12.84,14.04, 12.94,13.07,
  0.10,0.04, 0.19,0.24, 0.29,0.17, 0.38,0.37, 0.48,0.37, 0.57,0.58, 0.67,0.42, 0.77,0.66, 0.87,0.64, 0.97,1.03,
  1.10,0.71, 1.19,1.06, 1.29,1.01, 1.38,1.53, 1.48,1.16, 1.57,1.69, 1.67,1.33, 1.77,1.76, 1.87,1.68, 1.97,2.06,
  2.10,2.11, 2.19,2.00, 2.29,2.40, 2.38,1.99, 2.48,2.39, 2.57,2.31, 2.67,2.88, 2.77,2.46, 2.87,3.05, 2.97,2.62,
  3.10,2.83, 3.19,3.46, 3.29,2.98, 3.38,3.63, 3.48,3.15, 3.57,3.66, 3.67,3.54, 3.77,3.99, 3.87,3.54, 3.97,3.98,
  4.10,3.79, 4.19,4.35, 4.29,4.21, 4.38,4.69, 4.48,4.16, 4.57,4.65, 4.67,4.53, 4.77,5.25, 4.87,4.69, 4.97,5.42,
  5.10,5.53, 5.19,4.92, 5.29,5.47, 5.38,5.33, 5.48,6.13, 5.57,5.47, 5.67,6.30, 5.77,5.66, 5.87,6.30, 5.97,6.13,
  6.10,6.91, 6.19,6.17, 6.29,7.06, 6.38,6.32, 6.48,7.01, 6.57,6.79, 6.67,7.38, 6.77,6.69, 6.87,7.28, 6.97,7.11,
  7.10,8.01, 7.19,7.16, 7.29,7.92, 7.38,7.66, 7.48,8.31, 7.57,7.51, 7.67,8.16, 7.77,7.96, 7.87,8.92, 7.97,8.09,
  8.10,8.43, 8.19,9.14, 8.29,8.24, 8.38,8.95, 8.48,8.70, 8.57,9.76, 8.67,8.81, 8.77,9.90, 8.87,8.96, 8.97,9.80,
  9.10,9.74, 9.19,9.45, 9.29,10.61, 9.38,9.55, 9.48,10.74, 9.57,9.68, 9.67,10.59, 9.77,10.26, 9.87,11.03, 9.97,10.04,
  10.10,10.34, 10.19,11.52, 10.29,10.47, 10.38,11.37, 10.48,11.04, 10.57,11.80, 10.67,10.81, 10.77,11.58, 10.87,11.30, 10.97,12.46,
  11.10,12.17, 11.19,11.78, 11.29,12.60, 11.38,11.49, 11.48,12.31, 11.57,11.98, 11.67,13.22, 11.77,12.06, 11.87,13.33, 11.97,12.17,
  12.10,12.19, 12.19,12.98, 12.29,12.64, 12.38,13.85, 12.48,12.67, 12.57,13.92, 12.67,12.74, 12.77,13.69, 12.87,13.29, 12.97,14.09,
  0.06,0.10, 0.16,0.04, 0.25,0.31, 0.35,0.28, 0.45,0.44, 0.54,0.32, 0.64,0.70, 0.73,0.54, 0.83,0.93, 0.93,0.61,
  1.06,0.59, 1.16,1.31, 1.25,1.05, 1.35,1.35, 1.45,1.03, 1.54,1.68, 1.64,1.39, 1.73,1.94, 1.83,1.48, 1.93,2.01,
  2.06,2.29, 2.16,2.00, 2.25,2.30, 2.35,1.92, 2.45,2.65, 2.54,2.29, 2.64,2.90, 2.73,2.35, 2.83,2.93, 2.93,2.47,
  3.06,2.90, 3.16,3.25, 3.25,2.82, 3.35,3.63, 3.45,3.23, 3.54,3.90, 3.64,3.29, 3.73,3.92, 3.83,3.40, 3.93,4.28,
  4.06,4.26, 4.16,3.76, 4.25,4.66, 4.35,4.20, 4.45,4.96, 4.54,4.24, 4.64,4.96, 4.73,4.34, 4.83,5.33, 4.93,4.94,
  5.06,4.70, 5.16,5.72, 5.25,5.18, 5.35,6.04, 5.45,5.24, 5.54,6.04, 5.64,5.35, 5.73,6.45, 5.83,6.01, 5.93,6.44,
  6.06,6.85, 6.16,6.24, 6.25,7.16, 6.35,6.25, 6.45,7.12, 6.54,6.31, 6.64,7.52, 6.73,7.00, 6.83,7.45, 6.93,6.80,
  7.06,7.20, 7.16,8.23, 7.25,7.18, 7.35,8.15, 7.45,7.25, 7.54,8.58, 7.64,7.99, 7.73,8.47, 7.83,7.72, 7.93,8.96,
  8.06,9.30, 8.16,8.13, 8.25,9.18, 8.35,8.16, 8.45,9.65, 8.54,8.96, 8.64,9.50, 8.73,8.65, 8.83,10.01, 8.93,9.22,
  9.06,9.06, 9.16,10.22, 9.25,9.08, 9.35,10.71, 9.45,9.96, 9.54,10.52, 9.64,9.58, 9.73,11.06, 9.83,10.18, 9.93,11.42,
  10.06,11.21, 10.16,10.08, 10.25,11.70, 10.35,10.95, 10.45,11.53, 10.54,10.57, 10.64,12.06, 10.73,11.17, 10.83,12.41, 10.93,11.11,
  11.06,10.99, 11.16,12.74, 11.25,11.90, 11.35,12.51, 11.45,11.47, 11.54,13.06, 11.64,12.08, 11.73,13.40, 11.83,11.97, 11.93,13.21,
  12.06,13.63, 12.16,12.78, 12.25,13.36, 12.35,12.30, 12.45,13.88, 12.54,12.87, 12.64,14.18, 12.73,12.72, 12.83,13.94, 12.93,12.67
];
const seriesPoints = [pts10, pts20, pts30, pts40, pts60, pts80];

const svg = d3.select("#chart");
const frame = { left: 91.5, right: 1020.5, top: 16.5, bottom: 646.5 };

const x = d3.scaleLinear().domain([0, 14]).range([frame.left, frame.right]);
const y = d3.scaleLinear().domain([0, 40]).range([frame.bottom, frame.top]);

// scatter bands, lowest energy drawn first
const dot = 2.6;
const plot = svg.append("g");
seriesPoints.forEach((flat, i) => {
  const pairs = d3.range(0, flat.length, 2).map(k => [flat[k], flat[k + 1]]);
  plot.append("g")
    .attr("fill", energyColors[i])
    .selectAll("rect")
    .data(pairs)
    .join("rect")
    .attr("x", d => x(d[0]) - dot / 2)
    .attr("y", d => y(d[1]) - dot / 2)
    .attr("width", dot)
    .attr("height", dot);
});

// frame
svg.append("rect")
  .attr("x", frame.left).attr("y", frame.top)
  .attr("width", frame.right - frame.left).attr("height", frame.bottom - frame.top)
  .attr("fill", "none").attr("stroke", "#000").attr("stroke-width", 1);

// axes with inward ticks
function styleAxis(g) {
  g.select(".domain").remove();
  g.selectAll(".tick line").attr("stroke", "#000").attr("stroke-width", 1);
  g.selectAll(".tick text").attr("fill", "#000")
    .style("font-family", "'Liberation Sans', Arial, sans-serif");
}

svg.append("g")
  .attr("transform", `translate(0,${frame.bottom})`)
  .call(d3.axisBottom(x).tickValues(d3.range(0, 14.01, 0.5)).tickSize(-9).tickFormat(""))
  .call(styleAxis);
svg.append("g")
  .attr("transform", `translate(0,${frame.bottom})`)
  .call(d3.axisBottom(x).tickValues(xMajorTicks).tickSize(-19).tickPadding(25).tickFormat(d3.format("d")))
  .call(styleAxis)
  .call(g => g.selectAll(".tick text").attr("font-size", 26).attr("dy", "0.1em"));

svg.append("g")
  .attr("transform", `translate(${frame.left},0)`)
  .call(d3.axisLeft(y).tickValues(d3.range(0, 40.01, 1)).tickSize(-16).tickFormat(""))
  .call(styleAxis);
svg.append("g")
  .attr("transform", `translate(${frame.left},0)`)
  .call(d3.axisLeft(y).tickValues(yMajorTicks).tickSize(-29).tickPadding(6).tickFormat(d3.format("d")))
  .call(styleAxis)
  .call(g => g.selectAll(".tick text").attr("font-size", 26).attr("dy", "0.42em"));

// axis titles
svg.append("text")
  .attr("x", 1017).attr("y", 696)
  .attr("text-anchor", "end")
  .attr("font-size", 24)
  .attr("fill", "#000")
  .text(xTitle);

svg.append("text")
  .attr("transform", "translate(34,17) rotate(-90)")
  .attr("text-anchor", "end")
  .attr("font-size", 25)
  .attr("fill", "#000")
  .text(yTitle);

// legend
const legend = svg.append("g");
energyLabels.forEach((lab, i) => {
  const base = 63 + i * 47;
  legend.append("circle")
    .attr("cx", 164).attr("cy", base - 11).attr("r", 6)
    .attr("fill", energyColors[i]);
  legend.append("text")
    .attr("x", 183).attr("y", base)
    .attr("font-size", 36).attr("font-weight", "bold")
    .attr("fill", energyColors[i])
    .text(lab);
});
</script>
</body>
</html>
